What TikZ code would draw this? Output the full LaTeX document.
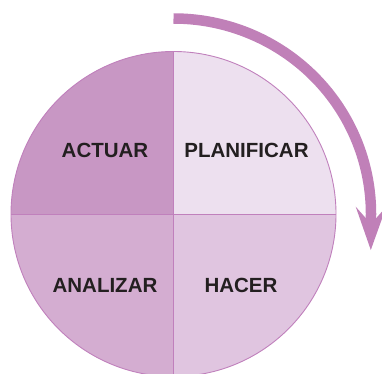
\documentclass[tikz,border=0pt]{standalone}
\usepackage{fontspec}
\setmainfont{Liberation Sans}
\usetikzlibrary{calc}
\definecolor{qA}{HTML}{C897C4}
\definecolor{qP}{HTML}{EDE0EF}
\definecolor{qN}{HTML}{D4ADD1}
\definecolor{qH}{HTML}{E0C5E0}
\definecolor{edge}{HTML}{C080BC}
\definecolor{arr}{HTML}{C080B8}
\definecolor{ink}{HTML}{231F20}
\begin{document}
\begin{tikzpicture}[x=1pt,y=1pt,
  lbl/.style={inner sep=0pt,text=ink,font=\fontsize{20.5}{24}\selectfont\bfseries},
  quad/.style={draw=edge,line width=0.9pt}]
\useasboundingbox (0,0) rectangle (382,373);
\coordinate (C) at (173.5,159);
\def\R{162.5}
% quadrants
\fill[qA] (C) -- ++(90:\R) arc[start angle=90,end angle=180,radius=\R] -- cycle;
\fill[qP] (C) -- ++(0:\R) arc[start angle=0,end angle=90,radius=\R] -- cycle;
\fill[qN] (C) -- ++(180:\R) arc[start angle=180,end angle=270,radius=\R] -- cycle;
\fill[qH] (C) -- ++(270:\R) arc[start angle=270,end angle=360,radius=\R] -- cycle;
\draw[quad] (C) circle[radius=\R];
\draw[quad] ($(C)+(0,\R)$) -- ($(C)-(0,\R)$);
\draw[quad] ($(C)+(-\R,0)$) -- ($(C)+(\R,0)$);
% arrow
\draw[arr,line width=10.5pt] (173.5,354.5) arc[start angle=90,end angle=-2,x radius=197.5,y radius=195.5];
\coordinate (tip) at (370.8,123);
\coordinate (bl) at (355.7,166.3);
\coordinate (nl) at (365.7,155);
\coordinate (nr) at (376.3,155);
\coordinate (br) at (386.3,166.3);
\fill[arr] (nl) -- (bl) -- (tip) -- (br) -- (nr) -- cycle;
% labels
\node[lbl] (actuar) at (105,223) {ACTUAR};
\node[lbl] (planificar) at (246.5,223) {PLANIFICAR};
\node[lbl] (analizar) at (105,88) {ANALIZAR};
\node[lbl] (hacer) at (241,88) {HACER};
\end{tikzpicture}
\end{document}
